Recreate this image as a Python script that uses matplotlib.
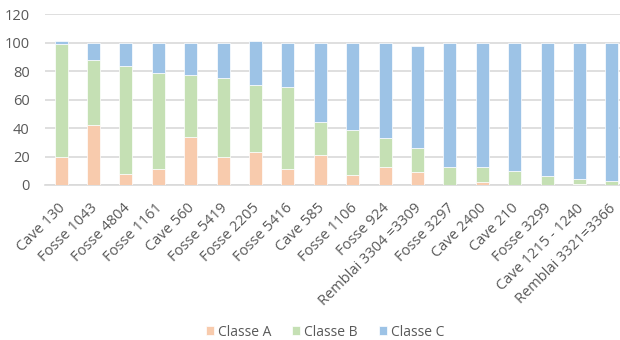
import matplotlib.pyplot as plt
import matplotlib.transforms as mtransforms
import numpy as np

categories = ['Cave 130', 'Fosse 1043', 'Fosse 4804', 'Fosse 1161', 'Cave 560',
              'Fosse 5419', 'Fosse 2205', 'Fosse 5416', 'Cave 585', 'Fosse 1106',
              'Fosse 924', 'Remblai 3304 =3309', 'Fosse 3297', 'Cave 2400',
              'Cave 210', 'Fosse 3299', 'Cave 1215 - 1240', 'Remblai 3321=3366']
classe_a = [20, 42, 8, 11, 34, 20, 23, 11, 21, 7, 13, 9, 0, 2, 0, 0, 1, 0]
classe_b = [79, 46, 76, 68, 43, 55, 47, 58, 23, 32, 20, 17, 13, 11, 10, 6, 3, 3]
classe_c = [2, 12, 16, 21, 23, 25, 31, 31, 56, 61, 67, 72, 87, 87, 90, 94, 96, 97]

plt.rcParams['font.family'] = ['Open Sans', 'DejaVu Sans']

fig = plt.figure(figsize=(6.2, 3.4), dpi=100)
ax = fig.add_axes([45 / 620, 155 / 340, 583 / 620, 170.7 / 340])

x = np.arange(len(categories))
a = np.array(classe_a)
b = np.array(classe_b)
c = np.array(classe_c)
w = 0.4
ax.bar(x, a, w, color='#F8CBAD', edgecolor='white', linewidth=0.5, label='Classe A', zorder=3)
ax.bar(x, b, w, bottom=a, color='#C5E0B4', edgecolor='white', linewidth=0.5, label='Classe B', zorder=3)
ax.bar(x, c, w, bottom=a + b, color='#9DC3E6', edgecolor='white', linewidth=0.5, label='Classe C', zorder=3)

ax.set_xlim(-0.5, len(categories) - 0.5)
ax.set_ylim(0, 120)
ax.set_yticks(range(0, 121, 20))
ax.yaxis.grid(True, color='#D9D9D9', linewidth=1.2, zorder=0)
for s in ['top', 'right', 'left']:
    ax.spines[s].set_visible(False)
ax.spines['bottom'].set_color('#D9D9D9')
ax.spines['bottom'].set_linewidth(1.2)
ax.tick_params(axis='both', length=0, colors='#595959', labelsize=10.5)
ax.tick_params(axis='y', pad=11)
ax.tick_params(axis='x', pad=13)
ax.set_xticks(x)
ax.set_xticklabels(categories, rotation=45, ha='right', va='center', rotation_mode='anchor')

# nudge the rotated labels so they end just under each bar
shift = mtransforms.ScaledTranslation(2 / 100, -3 / 100, fig.dpi_scale_trans)
for lbl in ax.get_xticklabels():
    lbl.set_transform(lbl.get_transform() + shift)

fig.legend(loc='center', bbox_to_anchor=(325 / 620, 1 - 332 / 340), ncol=3, frameon=False,
           fontsize=10, labelcolor='#595959', handlelength=0.58, handleheight=0.58,
           handletextpad=0.3, columnspacing=1.5, borderpad=0)

plt.savefig('out.png')
